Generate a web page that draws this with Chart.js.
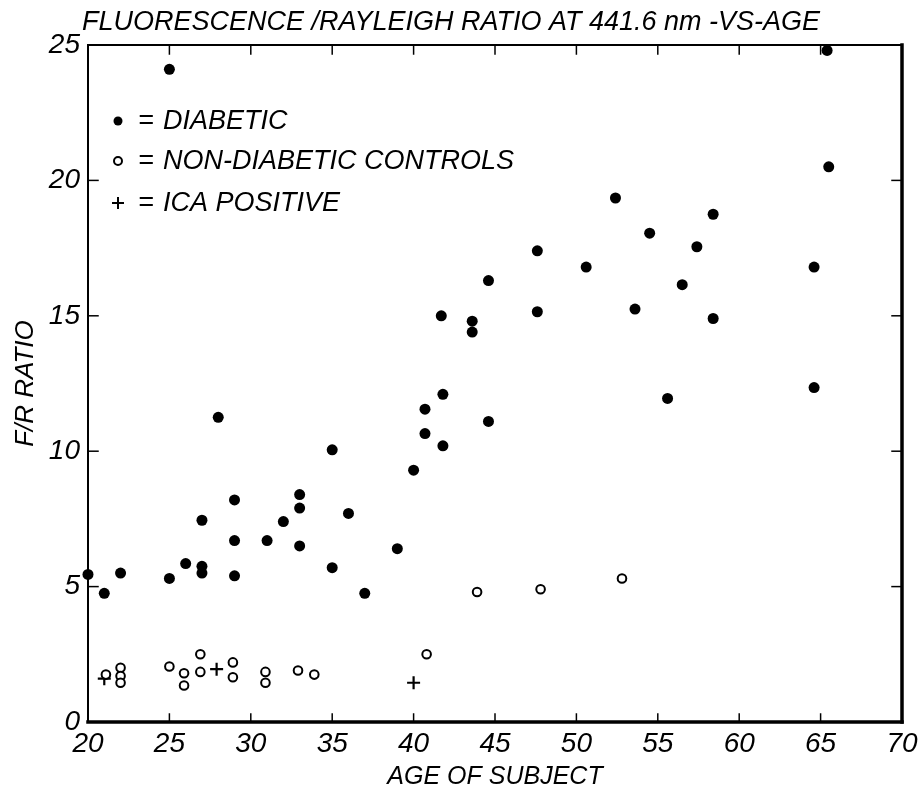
<!DOCTYPE html>
<html>
<head>
<meta charset="utf-8">
<script src="https://cdn.jsdelivr.net/npm/chart.js@4.4.1/dist/chart.umd.min.js"></script>
<style>
  body { margin: 0; background: #fff; }
  #wrap { width: 924px; height: 795px; }
</style>
</head>
<body>
<div id="wrap"><canvas id="cv" width="924" height="795"></canvas></div>
<script>
// data (age, F/R ratio)
const diabeticAge = [20, 21, 22, 25, 25, 26, 27, 27, 27, 28, 29, 29, 29, 31, 32, 33, 33, 33,
  35, 35, 36, 37, 39, 40, 40.7, 40.7, 41.7, 41.8, 41.8, 43.6, 43.6, 44.6, 44.6, 47.6, 47.6,
  50.6, 52.4, 53.6, 54.5, 55.6, 56.5, 57.4, 58.4, 58.4, 64.6, 64.6, 65.4, 65.5];
const diabeticRatio = [5.45, 4.75, 5.5, 5.3, 24.1, 5.85, 5.75, 5.5, 7.45, 11.25, 8.2, 6.7, 5.4, 6.7, 7.4, 8.4, 7.9, 6.5,
  10.05, 5.7, 7.7, 4.75, 6.4, 9.3, 11.55, 10.65, 15.0, 12.1, 10.2, 14.8, 14.4, 16.3, 11.1, 17.4, 15.15,
  16.8, 19.35, 15.25, 18.05, 11.95, 16.15, 17.55, 18.75, 14.9, 16.8, 12.35, 24.8, 20.5];

const controlAge = [21.1, 22, 22, 22, 25, 25.9, 25.9, 26.9, 26.9, 28.9, 28.9, 30.9, 30.9, 32.9, 33.9, 40.8, 43.9, 47.8, 52.8];
const controlRatio = [1.75, 2.0, 1.7, 1.45, 2.05, 1.8, 1.35, 2.5, 1.85, 2.2, 1.65, 1.85, 1.45, 1.9, 1.75, 2.5, 4.8, 4.9, 5.3];

const icaAge = [21, 27.9, 40];
const icaRatio = [1.6, 1.95, 1.45];

const xTicks = [20, 25, 30, 35, 40, 45, 50, 55, 60, 65, 70];
const yTicks = [0, 5, 10, 15, 20, 25];

const FONT = "'Liberation Sans', Arial, sans-serif";

function pts(xs, ys) {
  return xs.map((x, i) => ({x: x, y: ys[i]}));
}

// rahmen + kleine ticks nach innen
const frame = {
  id: 'frame',
  afterDatasetsDraw(chart) {
    const {ctx, chartArea: a, scales} = chart;
    ctx.save();
    ctx.strokeStyle = '#000';
    ctx.lineCap = 'square';
    const line = (x1, y1, x2, y2, w) => {
      ctx.lineWidth = w;
      ctx.beginPath(); ctx.moveTo(x1, y1); ctx.lineTo(x2, y2); ctx.stroke();
    };
    line(a.left, a.top, a.right, a.top, 2);
    line(a.left, a.top, a.left, a.bottom, 2);
    line(a.left, a.bottom, a.right, a.bottom, 3.5);
    line(a.right, a.top, a.right, a.bottom, 3.5);
    for (const v of xTicks.slice(1, -1)) {
      const x = scales.x.getPixelForValue(v);
      line(x, a.bottom, x, a.bottom - 8, 1.5);
      line(x, a.top, x, a.top + 9, 1.5);
    }
    for (const v of yTicks.slice(1, -1)) {
      const y = scales.y.getPixelForValue(v);
      line(a.left, y, a.left + 10, y, 1.5);
      line(a.right, y, a.right - 10, y, 1.5);
    }
    ctx.restore();
  }
};

// legende oben links im plot
const legendBox = {
  id: 'legendBox',
  afterDraw(chart) {
    const {ctx, chartArea: a} = chart;
    const rows = [76, 116, 158];
    ctx.save();
    ctx.fillStyle = '#000';
    ctx.strokeStyle = '#000';
    ctx.font = 'italic 27px ' + FONT;
    ctx.textBaseline = 'middle';
    chart.data.datasets.forEach((ds, i) => {
      const y = a.top + rows[i];
      const mx = a.left + 30;
      ctx.beginPath();
      if (i === 0) {
        ctx.arc(mx, y, 4.5, 0, Math.PI * 2); ctx.fill();
      } else if (i === 1) {
        ctx.lineWidth = 2;
        ctx.arc(mx, y, 4, 0, Math.PI * 2); ctx.stroke();
      } else {
        ctx.lineWidth = 2;
        ctx.moveTo(mx - 6, y); ctx.lineTo(mx + 6, y);
        ctx.moveTo(mx, y - 6); ctx.lineTo(mx, y + 6); ctx.stroke();
      }
      ctx.fillText('=', a.left + 50, y);
      ctx.fillText(ds.label, a.left + 75, y);
    });
    ctx.restore();
  }
};

const config = {
  type: 'scatter',
  data: {
    datasets: [
      {
        label: 'DIABETIC',
        data: pts(diabeticAge, diabeticRatio),
        pointStyle: 'circle',
        pointRadius: 5.5,
        pointBackgroundColor: '#000',
        pointBorderWidth: 0,
        clip: false
      },
      {
        label: 'NON-DIABETIC CONTROLS',
        data: pts(controlAge, controlRatio),
        pointStyle: 'circle',
        pointRadius: 4.3,
        pointBackgroundColor: '#fff',
        pointBorderColor: '#000',
        pointBorderWidth: 2,
        clip: false
      },
      {
        label: 'ICA POSITIVE',
        data: pts(icaAge, icaRatio),
        pointStyle: 'cross',
        pointRadius: 6.5,
        pointBorderColor: '#000',
        pointBorderWidth: 2.2,
        clip: false
      }
    ]
  },
  options: {
    responsive: false,
    animation: false,
    layout: {padding: {top: 0, right: 22, left: 0, bottom: 0}},
    plugins: {
      legend: {display: false},
      tooltip: {enabled: false},
      title: {
        display: true,
        text: 'FLUORESCENCE /RAYLEIGH RATIO AT 441.6 nm -VS-AGE',
        color: '#000',
        font: {family: FONT, size: 27, style: 'italic', weight: 'normal', lineHeight: 1.1},
        padding: {top: 8, bottom: 7.3}
      }
    },
    scales: {
      x: {
        type: 'linear',
        min: 20,
        max: 70,
        afterBuildTicks: (s) => { s.ticks = xTicks.map(v => ({value: v})); },
        ticks: {color: '#000', padding: 5, maxRotation: 0,
          font: {family: FONT, size: 28, style: 'italic'}},
        grid: {display: false, drawTicks: false},
        border: {display: false},
        title: {display: true, text: 'AGE OF SUBJECT', color: '#000',
          font: {family: FONT, size: 25, style: 'italic'}, padding: {top: 0, bottom: 3}},
        afterFit: (s) => { s.height = 73; }
      },
      y: {
        type: 'linear',
        min: 0,
        max: 25,
        afterBuildTicks: (s) => { s.ticks = yTicks.map(v => ({value: v})); },
        ticks: {color: '#000', padding: 8,
          font: {family: FONT, size: 28, style: 'italic'}},
        grid: {display: false, drawTicks: false},
        border: {display: false},
        title: {display: true, text: 'F/R RATIO', color: '#000',
          font: {family: FONT, size: 26, style: 'italic'}, padding: {top: 10, bottom: 0}},
        afterFit: (s) => { s.width = 88; }
      }
    }
  },
  plugins: [frame, legendBox]
};

new Chart(document.getElementById('cv').getContext('2d'), config);
</script>
</body>
</html>
